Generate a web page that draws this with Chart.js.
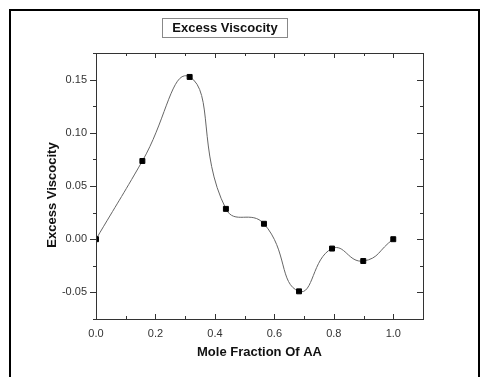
<!DOCTYPE html>
<html>
<head>
<meta charset="utf-8">
<script src="https://cdn.jsdelivr.net/npm/chart.js@4"></script>
<style>
  body { margin: 0; background: #fff; }
  #wrap { position: relative; width: 481px; height: 377px; overflow: hidden; }
  #frame { position: absolute; left: 9px; top: 9px; width: 467px; height: 420px; border: 2px solid #000; }
  #title {
    position: absolute; left: 162px; top: 18px; width: 124px; height: 18px;
    border: 1px solid #888; font: bold 13px "Liberation Sans", Arial, sans-serif;
    line-height: 18px; text-align: center; color: #111;
  }
  #ytitle {
    position: absolute; left: 52px; top: 195px; width: 200px; margin-left: -100px; margin-top: -8px;
    height: 16px; line-height: 16px; text-align: center; transform: rotate(-90deg);
    font: bold 13px "Liberation Sans", Arial, sans-serif; color: #111; white-space: nowrap;
  }
  canvas { position: absolute; left: 0; top: 0; }
</style>
</head>
<body>
<div id="wrap">
  <canvas id="chart" width="481" height="377"></canvas>
  <div id="frame"></div>
  <div id="title">Excess Viscocity</div>
  <div id="ytitle">Excess Viscocity</div>
</div>
<script>
// data
const moleFraction = [0, 0.156, 0.315, 0.437, 0.565, 0.683, 0.794, 0.899, 1.0];
const excessViscosity = [0, 0.0735, 0.1525, 0.0285, 0.0145, -0.049, -0.0088, -0.0205, 0];
const xTicks = [0, 0.2, 0.4, 0.6, 0.8, 1.0];
const yTicks = [-0.05, 0, 0.05, 0.10, 0.15];

const FONT = '"Liberation Sans", Arial, sans-serif';

// frame + Origin-style ticks (major and minor, all four sides)
const framePlugin = {
  id: 'frame',
  afterDraw(chart) {
    const { ctx, chartArea: a, scales: { x, y } } = chart;
    ctx.save();
    ctx.strokeStyle = '#333';
    ctx.lineWidth = 1;
    ctx.strokeRect(a.left + 0.5, a.top + 0.5, a.right - a.left, a.bottom - a.top);
    ctx.beginPath();
    for (let v = 0; v <= 1.1001; v += 0.1) {
      const px = Math.round(x.getPixelForValue(v)) + 0.5;
      const major = Math.abs(v / 0.2 - Math.round(v / 0.2)) < 1e-6;
      const len = major ? 5 : 3;
      ctx.moveTo(px, a.bottom); ctx.lineTo(px, a.bottom - len);
      ctx.moveTo(px, a.top); ctx.lineTo(px, a.top + len);
    }
    for (let v = -0.075; v <= 0.1751; v += 0.025) {
      const py = Math.round(y.getPixelForValue(v)) + 0.5;
      const major = Math.abs(v / 0.05 - Math.round(v / 0.05)) < 1e-6;
      const len = major ? 6 : 3;
      ctx.moveTo(a.left, py); ctx.lineTo(a.left - len, py);
      ctx.moveTo(a.right, py); ctx.lineTo(a.right - len, py);
    }
    ctx.stroke();
    ctx.restore();
  }
};

new Chart(document.getElementById('chart'), {
  type: 'scatter',
  data: {
    datasets: [{
      data: moleFraction.map((v, i) => ({ x: v, y: excessViscosity[i] })),
      showLine: true,
      tension: 0.5,
      borderColor: '#666',
      borderWidth: 1,
      pointStyle: 'rect',
      pointRadius: 3.5,
      pointBorderWidth: 1,
      pointBackgroundColor: '#000',
      pointBorderColor: '#000'
    }]
  },
  options: {
    responsive: false,
    animation: false,
    layout: { padding: { left: 0, right: 58, top: 53, bottom: 0 } },
    plugins: { legend: { display: false }, tooltip: { enabled: false } },
    scales: {
      x: {
        type: 'linear', min: 0, max: 1.1,
        afterBuildTicks: s => { s.ticks = xTicks.map(v => ({ value: v })); },
        afterFit: s => { s.height = 58; },
        grid: { display: false, drawTicks: false },
        border: { display: false },
        ticks: { padding: 8, color: '#333', font: { family: FONT, size: 11 }, maxRotation: 0,
                 callback: v => Number(v).toFixed(1) },
        title: { display: true, text: 'Mole Fraction Of AA', color: '#111',
                 font: { family: FONT, size: 13, weight: 'bold' }, padding: { bottom: 17 } }
      },
      y: {
        type: 'linear', min: -0.075, max: 0.175,
        afterBuildTicks: s => { s.ticks = yTicks.map(v => ({ value: v })); },
        afterFit: s => { s.width = 96; },
        grid: { display: false, drawTicks: false },
        border: { display: false },
        ticks: { padding: 9, color: '#333', font: { family: FONT, size: 11 },
                 callback: v => Number(v).toFixed(2) },
        title: { display: false }
      }
    }
  },
  plugins: [framePlugin]
});
</script>
</body>
</html>
